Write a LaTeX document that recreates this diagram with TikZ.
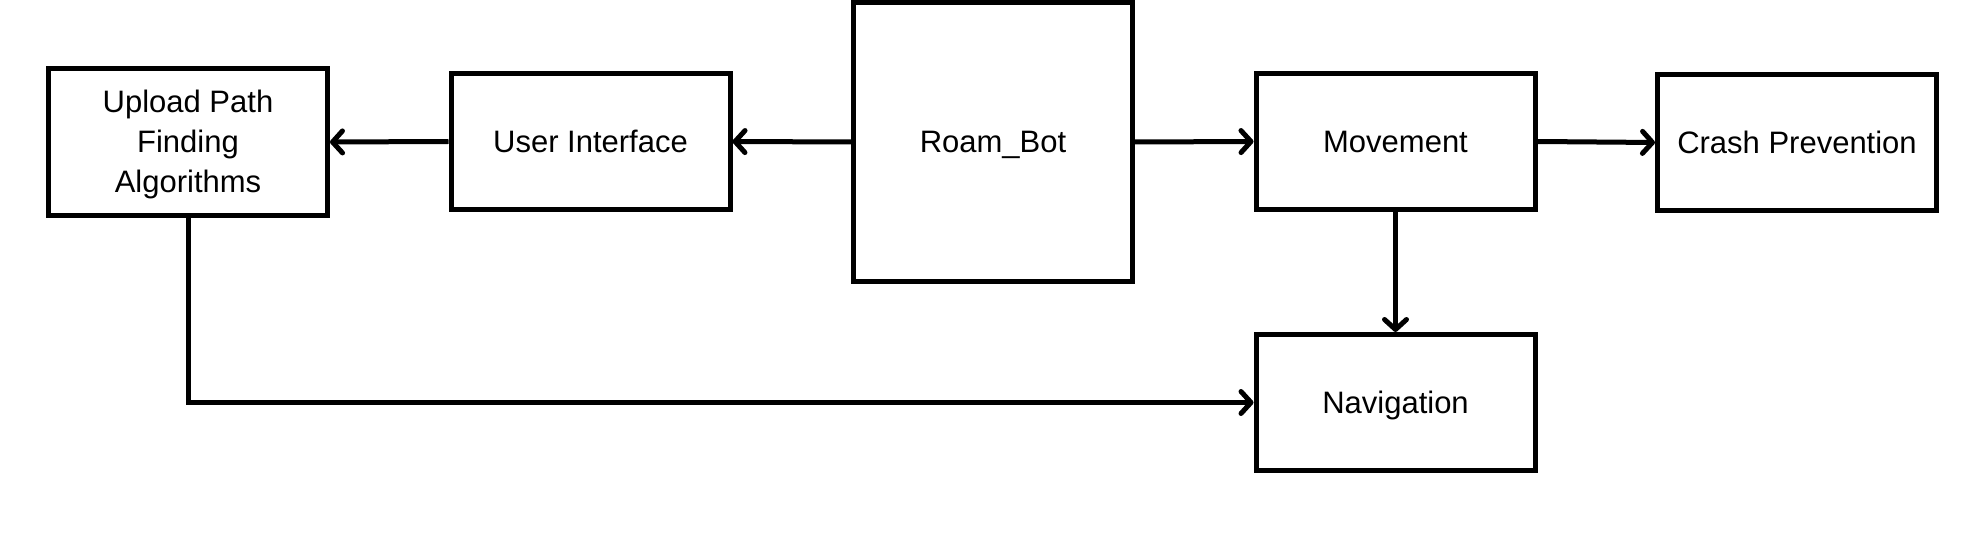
\documentclass[tikz,border=0pt]{standalone}
\usepackage{fontspec}
\setmainfont{Liberation Sans}
\usetikzlibrary{arrows.meta}
\begin{document}
\begin{tikzpicture}[x=1pt,y=-1pt,
  box/.style={draw=black, line width=5pt, fill=white, minimum width=279pt, minimum height=136pt,
    inner sep=0pt, align=center, text height=26pt, text depth=4pt,
    font=\fontsize{31pt}{40pt}\selectfont},
  conn/.style={draw=black, line width=5pt, -{Straight Barb[length=10pt,width=22pt,round]}}]
\useasboundingbox[fill=white] (0,0) rectangle (1964,534);
\node[box, minimum height=147pt, text height=105pt] (up) at (188,142) {Upload Path\\Finding\\Algorithms};
\node[box] (ui) at (590.5,141.5) {User Interface};
\node[box, minimum height=279pt] (rb) at (993,142) {Roam\_Bot};
\node[box] (mv) at (1395.5,141.5) {Movement};
\node[box] (cp) at (1797,142.5) {Crash Prevention};
\node[box] (nv) at (1395.5,402.5) {Navigation};
\draw[conn] (rb.west) -- (ui.east);
\draw[conn] (ui.west) -- (up.east);
\draw[conn] (rb.east) -- (mv.west);
\draw[conn] (mv.east) -- (cp.west);
\draw[conn] (mv.south) -- (nv.north);
\draw[conn] (up.south) |- (nv.west);
\end{tikzpicture}
\end{document}
